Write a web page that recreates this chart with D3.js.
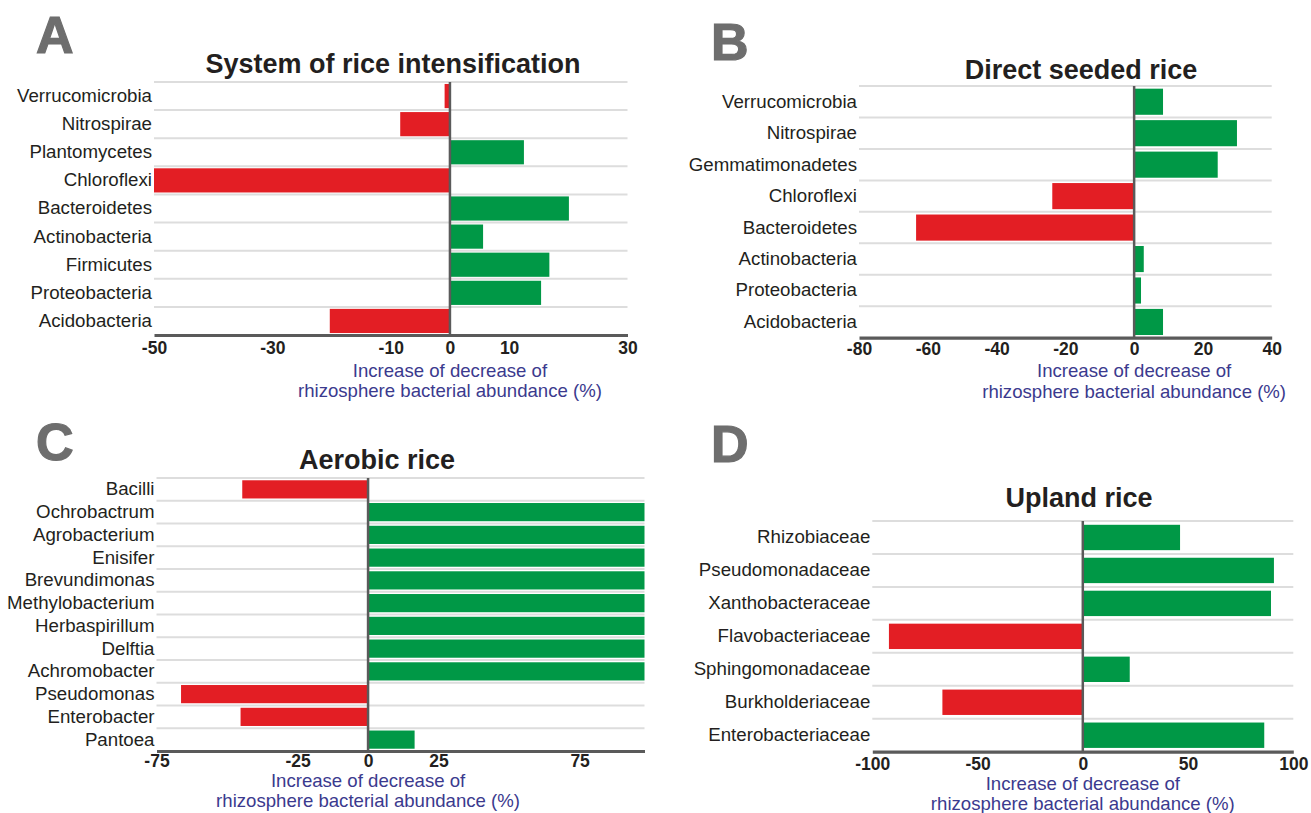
<!DOCTYPE html>
<html>
<head>
<meta charset="utf-8">
<script src="https://cdn.jsdelivr.net/npm/d3@7"></script>
<style>
  html, body { margin: 0; padding: 0; background: #ffffff; }
  svg { display: block; font-family: "Liberation Sans", Arial, Helvetica, sans-serif; }
</style>
</head>
<body>
<svg id="chart" width="1311" height="813"></svg>
<script>
// ---------------- DATA ----------------
const sriCategories = ["Verrucomicrobia", "Nitrospirae", "Plantomycetes", "Chloroflexi", "Bacteroidetes", "Actinobacteria", "Firmicutes", "Proteobacteria", "Acidobacteria"];
const sriValues = [-0.9, -8.4, 12.5, -50, 20.1, 5.6, 16.8, 15.4, -20.3];
const sriTicks = [-50, -30, -10, 0, 10, 30];

const dsrCategories = ["Verrucomicrobia", "Nitrospirae", "Gemmatimonadetes", "Chloroflexi", "Bacteroidetes", "Actinobacteria", "Proteobacteria", "Acidobacteria"];
const dsrValues = [8.4, 29.9, 24.3, -23.8, -63.4, 2.8, 2.0, 8.4];
const dsrTicks = [-80, -60, -40, -20, 0, 20, 40];

const aerCategories = ["Bacilli", "Ochrobactrum", "Agrobacterium", "Enisifer", "Brevundimonas", "Methylobacterium", "Herbaspirillum", "Delftia", "Achromobacter", "Pseudomonas", "Enterobacter", "Pantoea"];
const aerValues = [-44.6, 98, 98, 98, 98, 98, 98, 98, 98, -66.3, -45.2, 16.5];
const aerTicks = [-75, -25, 0, 25, 75];

const uplCategories = ["Rhizobiaceae", "Pseudomonadaceae", "Xanthobacteraceae", "Flavobacteriaceae", "Sphingomonadaceae", "Burkholderiaceae", "Enterobacteriaceae"];
const uplValues = [46.2, 90.8, 89.4, -92.1, 22.3, -66.7, 86.2];
const uplTicks = [-100, -50, 0, 50, 100];

const panelLetters = ["A", "B", "C", "D"];
const panelTitles = ["System of rice intensification", "Direct seeded rice", "Aerobic rice", "Upland rice"];
const axisTitleLines = ["Increase of decrease of", "rhizosphere bacterial abundance (%)"];

// ---------------- LAYOUT ----------------
const panels = [
  { cats: sriCategories, vals: sriValues, ticks: sriTicks, domain: [-50, 30],
    x0: 154, x1: 627.5, top: 82, bottom: 335, pad: 0.14,
    letterX: 36, letterY: 53, titleX: 393, titleY: 72.5,
    tickY: 354, t1: 376.5, t2: 397 },
  { cats: dsrCategories, vals: dsrValues, ticks: dsrTicks, domain: [-80, 40],
    x0: 859, x1: 1271.7, top: 86, bottom: 337.7, pad: 0.17,
    letterX: 711, letterY: 60, titleX: 1081, titleY: 79,
    tickY: 355, t1: 377, t2: 398 },
  { cats: aerCategories, vals: aerValues, ticks: aerTicks, domain: [-75, 98],
    x0: 156.5, x1: 644.5, top: 478, bottom: 751, pad: 0.2,
    letterX: 36, letterY: 460, titleX: 377, titleY: 469,
    tickY: 767, t1: 787, t2: 807 },
  { cats: uplCategories, vals: uplValues, ticks: uplTicks, domain: [-100, 100],
    x0: 872.3, x1: 1293.3, top: 521, bottom: 751.7, pad: 0.23,
    letterX: 711, letterY: 462, titleX: 1079, titleY: 507,
    tickY: 770, t1: 790, t2: 810 }
];

const RED = "#e31e24", GREEN = "#009846";
const AXIS = "#5a5a5a", GRID = "#dddddd";
const svg = d3.select("#chart");

panels.forEach((p, i) => {
  const g = svg.append("g");
  const x = d3.scaleLinear().domain(p.domain).range([p.x0, p.x1]);
  const y = d3.scaleBand().domain(p.cats).range([p.top, p.bottom]).paddingInner(p.pad).paddingOuter(p.pad / 2);

  // panel letter
  g.append("text").attr("x", p.letterX).attr("y", p.letterY)
    .attr("font-size", 52).attr("font-weight", 900).attr("fill", "#6e6e6e")
    .attr("stroke", "#6e6e6e").attr("stroke-width", 1.2)
    .text(panelLetters[i]);

  // title
  g.append("text").attr("x", p.titleX).attr("y", p.titleY)
    .attr("text-anchor", "middle").attr("font-size", 27).attr("font-weight", "bold")
    .attr("fill", "#231f20").text(panelTitles[i]);

  // gridlines at row boundaries
  const bounds = p.cats.map((c, k) => p.top + k * (p.bottom - p.top) / p.cats.length);
  g.selectAll("line.grid").data(bounds).join("line").attr("class", "grid")
    .attr("x1", p.x0).attr("x2", p.x1).attr("y1", d => d).attr("y2", d => d)
    .attr("stroke", GRID).attr("stroke-width", 2);

  // bars
  g.selectAll("rect.bar").data(p.cats.map((c, k) => ({ c, v: p.vals[k] }))).join("rect")
    .attr("class", "bar")
    .attr("x", d => x(Math.min(0, d.v)))
    .attr("width", d => Math.abs(x(d.v) - x(0)))
    .attr("y", d => y(d.c))
    .attr("height", y.bandwidth())
    .attr("fill", d => d.v < 0 ? RED : GREEN);

  // zero line
  g.append("line").attr("x1", x(0)).attr("x2", x(0)).attr("y1", p.top).attr("y2", p.bottom)
    .attr("stroke", AXIS).attr("stroke-width", 2.5);

  // category axis
  const ya = g.append("g").attr("transform", `translate(${p.x0},0)`)
    .call(d3.axisLeft(y).tickSize(0).tickPadding(2));
  ya.select(".domain").remove();
  ya.selectAll("text").attr("font-size", 18.7).attr("fill", "#231f20")
    .attr("font-family", "'Liberation Sans', Arial, sans-serif");

  // value axis
  const xa = g.append("g").attr("transform", `translate(0,${p.bottom})`)
    .call(d3.axisBottom(x).tickValues(p.ticks).tickSize(0).tickPadding(0).tickFormat(d => String(d)));
  xa.select(".domain").attr("stroke", AXIS).attr("stroke-width", 3.2);
  xa.selectAll("text").attr("dy", null).attr("y", p.tickY - p.bottom)
    .attr("font-size", 17.5).attr("font-weight", "bold").attr("fill", "#231f20")
    .attr("font-family", "'Liberation Sans', Arial, sans-serif");

  // axis title
  g.append("text").attr("x", x(0)).attr("y", p.t1).attr("text-anchor", "middle")
    .attr("font-size", 18.6).attr("fill", "#3b3a8e").text(axisTitleLines[0]);
  g.append("text").attr("x", x(0)).attr("y", p.t2).attr("text-anchor", "middle")
    .attr("font-size", 18.6).attr("fill", "#3b3a8e").text(axisTitleLines[1]);
});
</script>
</body>
</html>
